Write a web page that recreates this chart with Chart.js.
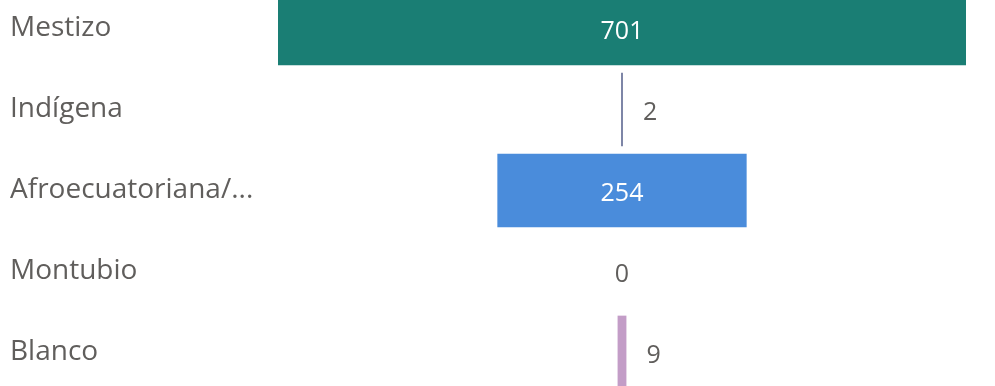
<!DOCTYPE html>
<html>
<head>
<meta charset="utf-8">
<script src="https://cdn.jsdelivr.net/npm/chart.js@4.4.0/dist/chart.umd.min.js"></script>
<style>
  html, body { margin: 0; padding: 0; background: #fff; overflow: hidden; }
  body { width: 995px; height: 386px; position: relative; }
  #wrap { position: absolute; left: 0; top: -12px; width: 995px; height: 405px; }
  #grafico { filter: blur(0.4px); }
</style>
</head>
<body>
<div id="wrap"><canvas id="grafico" width="995" height="405"></canvas></div>
<script>
// ------------------- DATOS -------------------
const categorias = ["Mestizo", "Indígena", "Afroecuatoriana/...", "Montubio", "Blanco"];
const valores = [701, 2, 254, 0, 9];
const colores = ["#1a7e74", "#7c84a6", "#4a8cdb", "#e8a33a", "#c39dc7"];

const maximo = Math.max(...valores);
const colorTexto = "#605e5c";
const fuente = "'Open Sans', 'Noto Sans', sans-serif";

// etiquetas de valor: dentro de la barra si cabe, si no a la derecha
const etiquetasValor = {
  id: "etiquetasValor",
  afterDatasetsDraw(chart) {
    const ctx = chart.ctx;
    const meta = chart.getDatasetMeta(0);
    ctx.save();
    ctx.font = "25px " + fuente;
    ctx.textBaseline = "middle";
    meta.data.forEach((bar, i) => {
      const txt = String(valores[i]);
      const ancho = ctx.measureText(txt).width;
      const izq = Math.min(bar.x, bar.base);
      const der = Math.max(bar.x, bar.base);
      const centro = (izq + der) / 2;
      const y = bar.y + 3;
      if (der - izq > ancho + 20) {
        ctx.fillStyle = "#ffffff";
        ctx.textAlign = "center";
        ctx.fillText(txt, centro, y);
      } else if (valores[i] === 0) {
        ctx.fillStyle = colorTexto;
        ctx.textAlign = "center";
        ctx.fillText(txt, centro, y);
      } else {
        ctx.fillStyle = colorTexto;
        ctx.textAlign = "left";
        ctx.fillText(txt, der + 20, y);
      }
    });
    ctx.restore();
  }
};

new Chart(document.getElementById("grafico"), {
  type: "bar",
  data: {
    labels: categorias,
    datasets: [{
      data: valores.map(v => [-v / 2, v / 2]),
      backgroundColor: colores,
      borderWidth: 0,
      categoryPercentage: 1,
      barPercentage: 0.91
    }]
  },
  options: {
    indexAxis: "y",
    responsive: false,
    animation: false,
    layout: { padding: { left: 10, right: 29, top: 0, bottom: 0 } },
    plugins: {
      legend: { display: false },
      tooltip: { enabled: false }
    },
    scales: {
      x: {
        display: false,
        min: -maximo / 2,
        max: maximo / 2
      },
      y: {
        grid: { display: false },
        border: { display: false },
        afterFit: s => {
          s.width = 268;
          s.paddingTop = 0;
          s.paddingBottom = 0;
        },
        ticks: {
          crossAlign: "far",
          color: colorTexto,
          font: { family: fuente, size: 28 }
        }
      }
    }
  },
  plugins: [etiquetasValor]
});
</script>
</body>
</html>
